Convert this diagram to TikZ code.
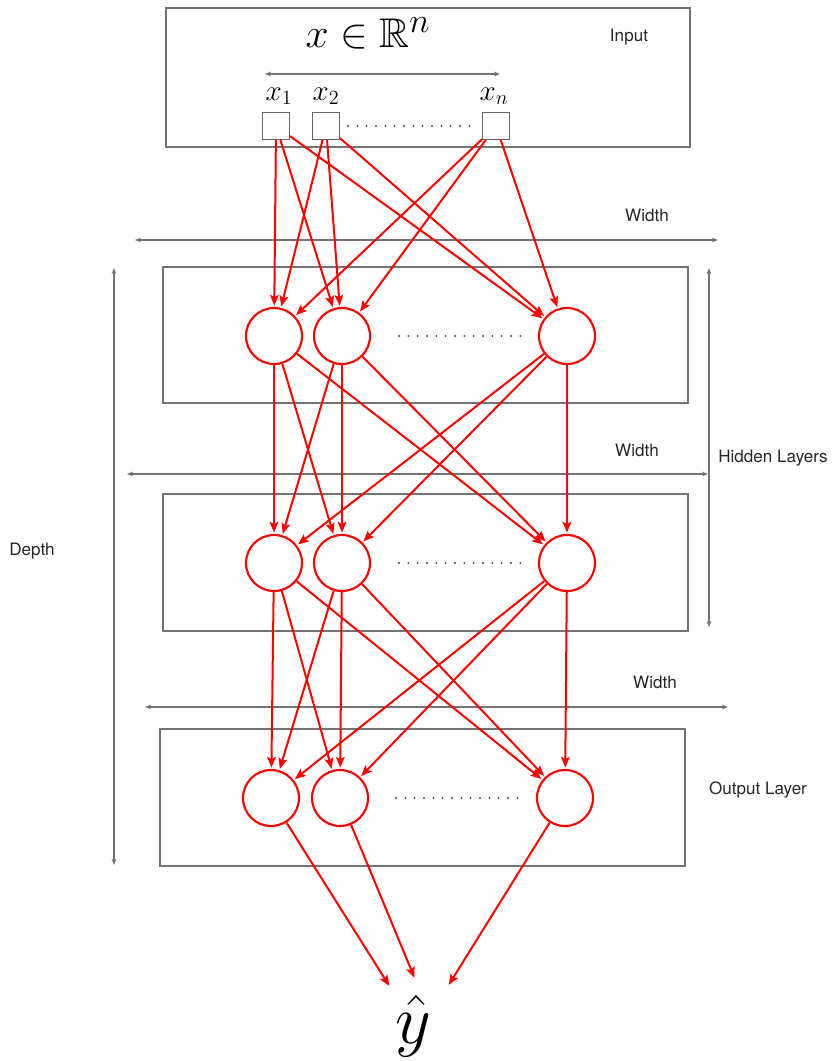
\documentclass[tikz,border=0pt]{standalone}
\usepackage{amssymb}
\usepackage{fontspec}
\setsansfont{TeX Gyre Heros}
\usetikzlibrary{arrows.meta}
\begin{document}
\begin{tikzpicture}[x=0.75pt,y=-0.75pt,
  layerbox/.style={draw=black!55,line width=0.9pt},
  dimarrow/.style={draw=black!55,line width=0.8pt,{Stealth[length=4.5pt,width=3.5pt]}-{Stealth[length=4.5pt,width=3.5pt]}},
  lbl/.style={font=\sffamily\fontsize{12.8}{15}\selectfont,text=black!85},
  neuron/.style={circle,draw=red,line width=1.6pt,minimum size=42pt,inner sep=0pt},
  inunit/.style={draw=black!60,line width=0.9pt,minimum size=20pt,inner sep=0pt},
  edge/.style={draw=red,line width=1.5pt,shorten >=1pt,-{Stealth[length=8pt,width=6.5pt,inset=1.5pt]}},
  dotline/.style={draw=black!75,line width=1.6pt,line cap=round,dash pattern=on 0pt off 7pt}]
\useasboundingbox (0,0) rectangle (838,1061);

% boxes
\draw[layerbox] (166,8) rectangle (690,147);
\draw[layerbox] (163,267) rectangle (688,403);
\draw[layerbox] (163,494) rectangle (688,631);
\draw[layerbox] (160,729) rectangle (685,866);

% input
\node[scale=1.25] (title) at (368,33) {\Huge $x \in \mathbb{R}^n$};
\node[lbl] (inlbl) at (629,37) {Input};
\coordinate (inL) at (265,74);
\coordinate (inR) at (500,74);
\draw[dimarrow] (inL) -- (inR);
\node[scale=1.05] (lx1) at (279,96) {\huge $x_1$};
\node[scale=1.05] (lx2) at (326,96) {\huge $x_2$};
\node[scale=1.05] (lxn) at (494,96) {\huge $x_n$};
\node[inunit] (x1) at (276,126) {};
\node[inunit] (x2) at (326,126) {};
\node[inunit] (x3) at (496,126) {};
\coordinate (d0a) at (348,126);
\coordinate (d0b) at (474,126);
\draw[dotline] (d0a) -- (d0b);

% width arrows and labels
\coordinate (w1L) at (135,240); \coordinate (w1R) at (718,240);
\draw[dimarrow] (w1L) -- (w1R);
\node[lbl] (w1) at (647,215) {Width};
\coordinate (w2L) at (127,474); \coordinate (w2R) at (708,474);
\draw[dimarrow] (w2L) -- (w2R);
\node[lbl] (w2) at (637,450) {Width};
\coordinate (w3L) at (145,707); \coordinate (w3R) at (728,707);
\draw[dimarrow] (w3L) -- (w3R);
\node[lbl] (w3) at (655,682) {Width};

% depth and hidden layers
\coordinate (dT) at (114,268); \coordinate (dB) at (114,865);
\draw[dimarrow] (dT) -- (dB);
\node[lbl] (depth) at (32,551) {Depth};
\coordinate (hT) at (709,268); \coordinate (hB) at (709,627);
\draw[dimarrow] (hT) -- (hB);
\node[lbl] (hid) at (773,458) {Hidden Layers};
\node[lbl] (outl) at (758,790) {Output Layer};

% neurons
\node[neuron] (a1) at (274,336) {};
\node[neuron] (a2) at (342,336) {};
\node[neuron] (a3) at (567,336) {};
\node[neuron] (b1) at (274,563) {};
\node[neuron] (b2) at (342,563) {};
\node[neuron] (b3) at (567,563) {};
\node[neuron] (c1) at (271,798) {};
\node[neuron] (c2) at (340,798) {};
\node[neuron] (c3) at (565,798) {};

\coordinate (d1a) at (399,336); \coordinate (d1b) at (522,336);
\draw[dotline] (d1a) -- (d1b);
\coordinate (d2a) at (399,563); \coordinate (d2b) at (522,563);
\draw[dotline] (d2a) -- (d2b);
\coordinate (d3a) at (396,798); \coordinate (d3b) at (518,798);
\draw[dotline] (d3a) -- (d3b);

% edges
\foreach \s in {x1,x2,x3}{\foreach \t in {a1,a2,a3}{\draw[edge] (\s) -- (\t);}}
\foreach \s in {a1,a2,a3}{\foreach \t in {b1,b2,b3}{\draw[edge] (\s) -- (\t);}}
\foreach \s in {b1,b2,b3}{\foreach \t in {c1,c2,c3}{\draw[edge] (\s) -- (\t);}}

% output
\node[scale=2.1] (yhat) at (413,1026) {\Huge $\hat{y}$};
\coordinate (t1) at (390,987);
\coordinate (t2) at (415,979);
\coordinate (t3) at (448,986);
\draw[edge] (c1) -- (t1);
\draw[edge] (c2) -- (t2);
\draw[edge] (c3) -- (t3);
\end{tikzpicture}
\end{document}
